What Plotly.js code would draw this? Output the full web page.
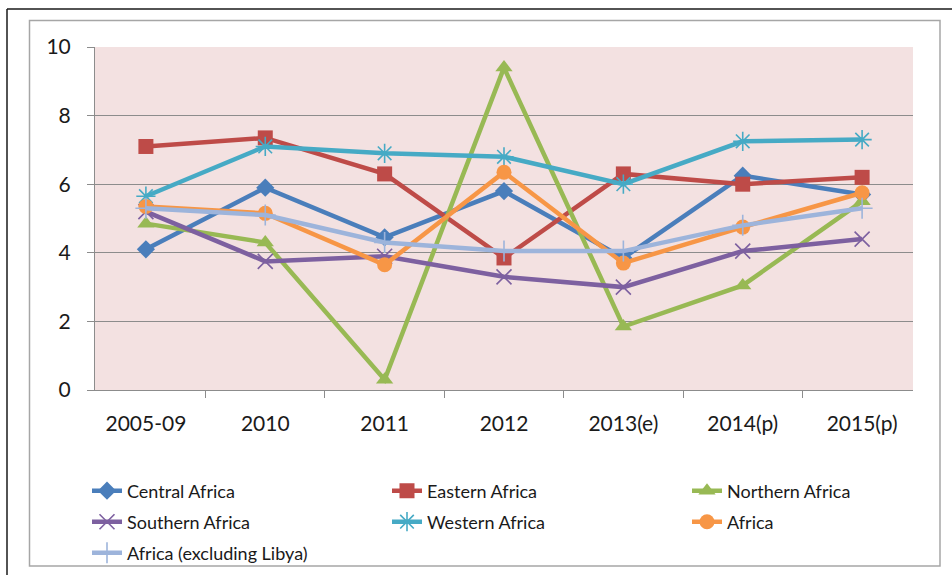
<!DOCTYPE html>
<html>
<head>
<meta charset="utf-8">
<script src="https://cdn.plot.ly/plotly-3.0.1.min.js"></script>
<style>
  html, body { margin: 0; padding: 0; background: #fff; }
  #chart { width: 952px; height: 575px; }
</style>
</head>
<body>
<div id="chart"></div>
<script>
// ---- data ----
var categories = ["2005-09", "2010", "2011", "2012", "2013(e)", "2014(p)", "2015(p)"];
var seriesNames = ["Central Africa", "Eastern Africa", "Northern Africa", "Southern Africa",
                   "Western Africa", "Africa", "Africa (excluding Libya)"];
var centralAfrica  = [4.1, 5.9, 4.45, 5.8, 3.85, 6.25, 5.7];
var easternAfrica  = [7.1, 7.35, 6.3, 3.85, 6.3, 6.0, 6.2];
var northernAfrica = [4.85, 4.3, 0.3, 9.4, 1.85, 3.05, 5.5];
var southernAfrica = [5.2, 3.75, 3.9, 3.3, 3.0, 4.05, 4.4];
var westernAfrica  = [5.65, 7.1, 6.9, 6.8, 6.0, 7.25, 7.3];
var africa         = [5.35, 5.15, 3.65, 6.35, 3.7, 4.75, 5.75];
var africaExLibya  = [5.3, 5.1, 4.3, 4.05, 4.05, 4.8, 5.3];
var yTicks = [0, 2, 4, 6, 8, 10];

// ---- styling ----
var FONT = "Lato, 'Open Sans', sans-serif";
var seriesValues = [centralAfrica, easternAfrica, northernAfrica, southernAfrica,
                    westernAfrica, africa, africaExLibya];
var colors = ["#4A7EBB", "#BE4B48", "#98B954", "#7D60A0", "#46AAC5", "#F79646", "#9DB4DB"];
var symbols = ["diamond", "square", "triangle-up", "x-thin-open", "asterisk-open", "circle", "cross-thin-open"];
var sizes = [14, 15, 15, 15, 16, 15, 15];

// legend entry positions (text start x, row centre y) in page pixels
var legendTextX = [127, 427, 727, 127, 427, 727, 127];
var legendRowY  = [491, 491, 491, 522, 522, 522, 553];

var traces = seriesNames.map(function (name, i) {
  var open = symbols[i].indexOf("open") >= 0;
  return {
    type: "scatter",
    mode: "lines+markers",
    name: name,
    x: categories,
    y: seriesValues[i],
    legend: i === 0 ? "legend" : "legend" + (i + 1),
    cliponaxis: false,
    line: { color: colors[i], width: 4.5 },
    marker: {
      symbol: symbols[i],
      size: sizes[i],
      color: colors[i],
      line: { color: colors[i], width: open ? 1.6 : 0 }
    }
  };
});

// plot-area pixel geometry -> paper coordinates
var L = 95, R = 913, T = 47, B = 390;
function px(x) { return (x - L) / (R - L); }
function py(y) { return (B - y) / (B - T); }

function legendBox(i) {
  return {
    orientation: "h",
    x: px(legendTextX[i] - 40), xanchor: "left",
    y: py(legendRowY[i]), yanchor: "middle",
    font: { family: FONT, size: 18, color: "#1a1a1a" },
    bgcolor: "rgba(0,0,0,0)",
    borderwidth: 0,
    itemclick: false, itemdoubleclick: false
  };
}

var layout = {
  width: 952, height: 575,
  margin: { l: L, r: 952 - R, t: T, b: 575 - B, autoexpand: false },
  paper_bgcolor: "#ffffff",
  plot_bgcolor: "#F3E1E1",
  showlegend: true,
  font: { family: FONT, color: "#1a1a1a" },
  xaxis: {
    type: "category",
    tickson: "boundaries",
    ticks: "outside", ticklen: 7, tickcolor: "#8c8c8c", tickwidth: 1,
    showline: true, linecolor: "#8c8c8c", linewidth: 1,
    showgrid: false, zeroline: false,
    tickfont: { family: FONT, size: 21, color: "#1a1a1a" },
    ticklabelstandoff: 15,
    fixedrange: true
  },
  yaxis: {
    range: [0, 10],
    tickvals: yTicks,
    ticktext: yTicks.map(String),
    ticks: "outside", ticklen: 7, tickcolor: "#8c8c8c", tickwidth: 1,
    showline: true, linecolor: "#8c8c8c", linewidth: 1,
    showgrid: true, gridcolor: "#8c8c8c", gridwidth: 1,
    zeroline: false,
    tickfont: { family: FONT, size: 21, color: "#1a1a1a" },
    ticklabelstandoff: 12,
    fixedrange: true
  },
  shapes: [
    // outer black frame (top and left)
    { type: "line", xref: "paper", yref: "paper", x0: px(7), x1: px(952), y0: py(9), y1: py(9),
      line: { color: "#1a1a1a", width: 1.5 } },
    { type: "line", xref: "paper", yref: "paper", x0: px(7), x1: px(7), y0: py(9), y1: py(575),
      line: { color: "#1a1a1a", width: 1.5 } },
    // inner gray chart-area frame
    { type: "rect", xref: "paper", yref: "paper", x0: px(29.5), x1: px(940), y0: py(20.5), y1: py(566),
      line: { color: "#a6a6a6", width: 1.5 }, fillcolor: "rgba(0,0,0,0)", layer: "below" }
  ]
};
for (var i = 0; i < seriesNames.length; i++) {
  layout[i === 0 ? "legend" : "legend" + (i + 1)] = legendBox(i);
}

Plotly.newPlot("chart", traces, layout, { displayModeBar: false, staticPlot: true });
</script>
</body>
</html>
